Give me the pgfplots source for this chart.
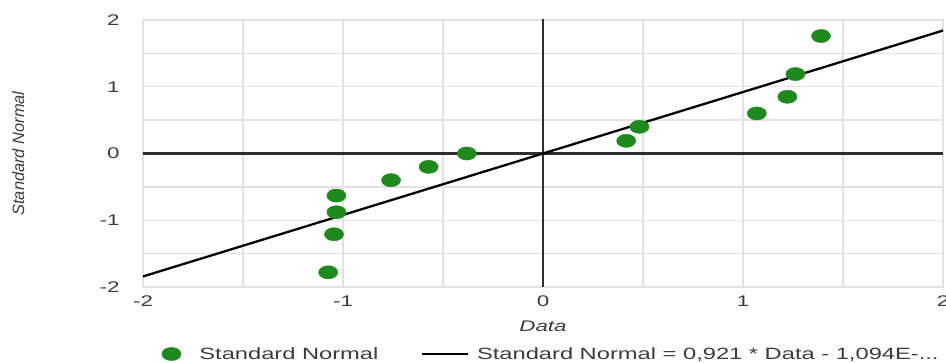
\documentclass[border=0pt]{standalone}
\usepackage{fontspec}
\setmainfont{Liberation Sans}[FakeStretch=1.45]
\newfontfamily\ylabfont{Liberation Sans}
\usepackage{pgfplots}
\pgfplotsset{compat=1.18}
\definecolor{ptgreen}{RGB}{30,138,30}
\definecolor{gridgray}{RGB}{226,226,226}
\definecolor{txtgray}{RGB}{60,60,60}
\pgfplotsset{
  dotlegend/.style={legend image code/.code={\path[draw=none,fill=none] (0bp,-3bp) rectangle (30bp,3bp);
    \draw[mark repeat=2,mark phase=2,##1] plot coordinates {(0bp,0bp) (10bp,0bp) (20bp,0bp)};}},
  linelegend/.style={legend image code/.code={\draw[line width=2.6bp] (0bp,0bp) -- (46bp,0bp);}}
}
\begin{document}
\begin{tikzpicture}
\begin{axis}[
  scale only axis,
  width=800bp, height=267bp,
  xmin=-2, xmax=2, ymin=-2, ymax=2,
  xtick={-2,-1,0,1,2}, ytick={-2,-1,0,1,2},
  minor x tick num=1, minor y tick num=1,
  grid=both,
  major grid style={gridgray, line width=1.3bp},
  minor grid style={gridgray, line width=1.3bp},
  axis line style={gridgray, line width=1.5bp},
  major tick length=0pt, minor tick length=0pt,
  /pgf/number format/assume math mode=true,
  tick label style={font=\fontsize{15.5}{18}\selectfont, text=txtgray},
  yticklabel style={xshift=-20bp},
  xticklabel style={yshift=-5bp},
  xlabel={\itshape Data},
  xlabel style={font=\fontsize{15.5}{18}\selectfont, text=txtgray, at={(axis description cs:0.5,-0.148)}, anchor=center},
  ylabel={\ylabfont\itshape Standard Normal},
  ylabel style={font=\fontsize{16.5}{19}\selectfont, text=txtgray, at={(axis description cs:-0.156,0.5)}, anchor=center, rotate=0},
  legend columns=2,
  reverse legend,
  legend style={draw=none, fill=none, at={(axis description cs:0.019,-0.251)}, anchor=west,
    font=\fontsize{16.4}{19}\selectfont, text=txtgray,
    /tikz/every odd column/.append style={column sep=6bp},
    /tikz/every even column/.append style={column sep=40bp}},
]
\draw[line width=2.6bp, black!82] (axis cs:-2,0) -- (axis cs:2,0);
\draw[line width=2.6bp, black!82] (axis cs:0,-2) -- (axis cs:0,2.03);
\addplot[black, line width=2.3bp, linelegend]
  coordinates {(-2,-1.842) (2,1.842)};
\addlegendentry{Standard Normal = 0,921 * Data - 1,094E-...}
\addplot[only marks, mark=*, mark size=6.6bp, color=ptgreen, mark options={xscale=1.45, fill=ptgreen, draw=ptgreen}, dotlegend]
  coordinates {
  (-1.074,-1.78) (-1.045,-1.21) (-1.033,-0.88) (-1.033,-0.63)
  (-0.760,-0.40) (-0.572,-0.20) (-0.381,0.00)
  (0.416,0.19) (0.482,0.40) (1.069,0.60) (1.222,0.85) (1.262,1.19) (1.39,1.76)
  };
\addlegendentry{Standard Normal}
\coordinate (sw) at (rel axis cs:0,0);
\end{axis}
\pgfresetboundingbox
\path (sw) ++(-143bp,-76bp) rectangle ++(946bp,363bp);
\end{tikzpicture}
\end{document}
